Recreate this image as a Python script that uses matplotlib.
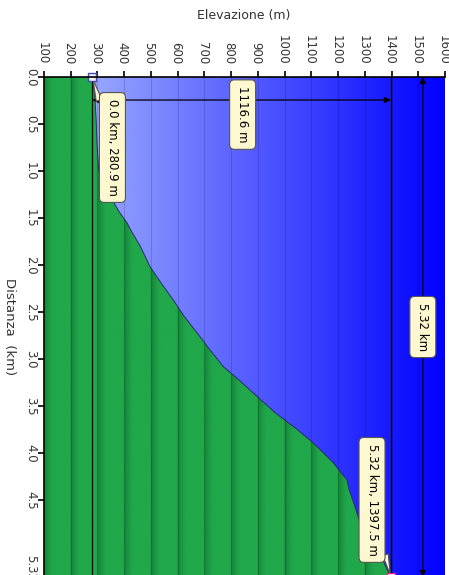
import numpy as np
import matplotlib
matplotlib.use("Agg")
import matplotlib.pyplot as plt
from matplotlib.patches import Polygon
from matplotlib.transforms import ScaledTranslation

# elevation profile (distance km -> elevation m)
distance_km = [0.0, 0.2, 0.45, 0.7, 1.0, 1.2, 1.33, 1.43, 1.55, 1.65, 1.8, 2.02, 2.2,
               2.37, 2.55, 2.72, 2.9, 3.08, 3.2, 3.36, 3.57, 3.75, 3.9, 4.10, 4.29,
               4.39, 4.5, 4.64, 4.82, 5.0, 5.14, 5.25, 5.32]
elevation_m = [280.9, 290, 295, 298, 305, 330, 360, 380, 410, 429, 460, 497, 540,
               583, 625, 672, 720, 770, 820, 882, 964, 1047, 1110, 1181, 1234,
               1241, 1255, 1271, 1290, 1330, 1368, 1385, 1397.5]

elev_ticks = list(range(100, 1700, 100))
dist_ticks = [0.0, 0.5, 1.0, 1.5, 2.0, 2.5, 3.0, 3.5, 4.0, 4.5, 5.32]
dist_tick_labels = ["0.0", "0.5", "1.0", "1.5", "2.0", "2.5", "3.0", "3.5", "4.0", "4.5", "5.32"]

start_km, start_m = 0.0, 280.9
end_km, end_m = 5.32, 1397.5
gain_label = "1116.6 m"
length_label = "5.32 km"
start_label = "0.0 km, 280.9 m"
end_label = "5.32 km, 1397.5 m"

box_fc = "#fdf8cf"
box_ec = "#555555"
fs = 8.5

fig = plt.figure(figsize=(4.49, 5.75), dpi=100)
ax = fig.add_axes([44 / 449, 1 - 577 / 575, 401 / 449, 500 / 575])
xmin, xmax = 100, 1600

# blue background gradient
xs = np.linspace(xmin, xmax, 600)
f = (xs - xmin) / (xmax - xmin)
c0 = np.array([173, 190, 255]) / 255
c1 = np.array([0, 0, 255]) / 255
grad = (1 - f)[:, None] * c0 + f[:, None] * c1
ax.imshow(grad[None, :, :], extent=[xmin, xmax, end_km, 0], aspect="auto", zorder=0)

# green terrain with banded shading
verts = [(xmin, distance_km[0])] + list(zip(elevation_m, distance_km)) + [(xmin, distance_km[-1])]
terrain = Polygon(verts, closed=True, transform=ax.transData)
xg = np.linspace(xmin, xmax, 1500)
t = ((xg - xmin) % 100) / 100
m = np.clip(1 - t / 0.35, 0, 1) ** 1.3
light = np.array([33, 168, 75]) / 255
dark = np.array([22, 132, 56]) / 255
green = (1 - m)[:, None] * light + m[:, None] * dark
im = ax.imshow(green[None, :, :], extent=[xmin, xmax, end_km, 0], aspect="auto", zorder=2)
im.set_clip_path(terrain)
ax.plot(elevation_m, distance_km, color="#2a2a70", lw=0.7, zorder=3)

# grid
for v in elev_ticks[1:-1]:
    ax.axvline(v, color=(0, 0, 0, 0.15), lw=0.8, zorder=3)

ax.set_xlim(xmin, xmax)
ax.set_ylim(end_km, 0)

# reference lines and arrows
ax.plot([start_m, start_m], [0, end_km], color="black", lw=0.9, zorder=4)
ax.plot([end_m, end_m], [0, end_km], color="black", lw=0.9, zorder=4)
ax.annotate("", xy=(end_m, 0.245), xytext=(start_m, 0.245),
            arrowprops=dict(arrowstyle="<|-|>", color="black", lw=0.9,
                            mutation_scale=9, shrinkA=0, shrinkB=0), zorder=5)
ax.annotate("", xy=(1517, end_km), xytext=(1517, 0),
            arrowprops=dict(arrowstyle="<|-|>", color="black", lw=0.9,
                            mutation_scale=9, shrinkA=0, shrinkB=0),
            annotation_clip=False, zorder=5)

bbox = dict(boxstyle="round,pad=0.55,rounding_size=0.4", fc=box_fc, ec=box_ec, lw=0.8)
ax.text(843, 0.40, gain_label, rotation=-90, ha="center", va="center",
        fontsize=fs, bbox=bbox, zorder=6)
ax.text(1517, end_km / 2, length_label, rotation=-90, ha="center", va="center",
        fontsize=fs, bbox=bbox, zorder=6)

tail = dict(arrowstyle="wedge,tail_width=0.5", fc=box_fc, ec=box_ec, lw=0.8,
            shrinkA=0, shrinkB=2)
ax.annotate(start_label, xy=(start_m, start_km), xytext=(356, 0.75),
            rotation=-90, ha="center", va="center", fontsize=fs,
            bbox=bbox, arrowprops=tail, zorder=6)
ax.annotate(end_label, xy=(end_m, end_km), xytext=(1327, 4.50),
            rotation=-90, ha="center", va="center", fontsize=fs,
            bbox=bbox, arrowprops=tail, annotation_clip=False, zorder=6)

ax.plot([start_m], [start_km], marker="s", ms=5.5, mfc="#eeeeff", mec="#4848b0",
        mew=1.0, clip_on=False, zorder=7)
ax.plot([end_m], [end_km], marker="s", ms=5.5, mfc="white", mec="#e0208a",
        mew=1.0, clip_on=False, zorder=7)

# axes styling
ax.set_xticks(elev_ticks)
ax.set_xticklabels([str(v) for v in elev_ticks])
ax.set_yticks(dist_ticks)
ax.set_yticklabels(dist_tick_labels)
ax.xaxis.tick_top()
ax.tick_params(axis="x", top=True, bottom=False, labeltop=True, labelbottom=False,
               labelrotation=-90, length=4, width=1.2, pad=5, labelsize=fs,
               labelcolor="#333333")
ax.tick_params(axis="y", left=True, length=4, width=1.2, pad=1, labelsize=fs,
               labelrotation=-90, labelcolor="#333333")
shift_left = ScaledTranslation(-2 / 100, 0, fig.dpi_scale_trans)
for lab in ax.get_xticklabels():
    lab.set_transform(lab.get_transform() + shift_left)
ylabs = ax.get_yticklabels()
for lab in ylabs:
    lab.set_va("center")
ylabs[-1].set_transform(ylabs[-1].get_transform()
                        + ScaledTranslation(0, 9 / 100, fig.dpi_scale_trans))
for s in ("right", "bottom"):
    ax.spines[s].set_visible(False)
for s in ("left", "top"):
    ax.spines[s].set_linewidth(1.2)
    ax.spines[s].set_zorder(8)

fig.text(244 / 449, 1 - 15 / 575, "Elevazione (m)", ha="center", va="center",
         fontsize=9, color="#333333")
fig.text(9 / 449, 1 - 327 / 575, "Distanza  (km)", ha="center", va="center",
         rotation=-90, fontsize=9.5, color="#333333")

fig.savefig("out.png", dpi=100)
